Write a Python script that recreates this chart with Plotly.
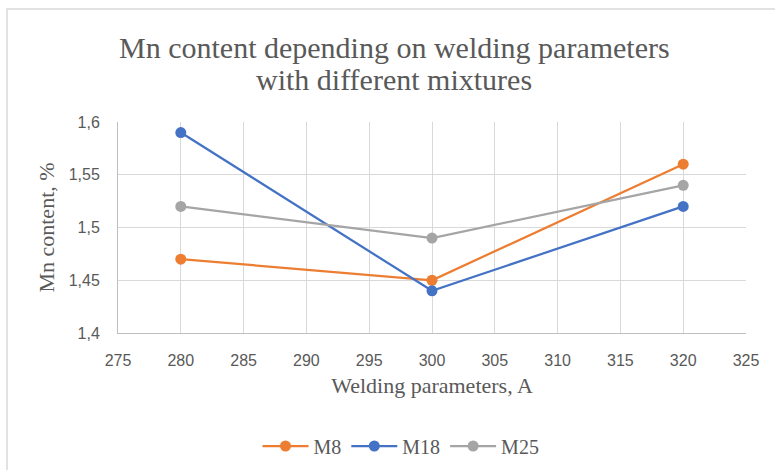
import plotly.graph_objects as go

current_a = [280, 300, 320]
m8 = [1.47, 1.45, 1.56]
m18 = [1.59, 1.44, 1.52]
m25 = [1.52, 1.49, 1.54]

series = [("M8", m8, "#ED7D31"), ("M18", m18, "#4472C4"), ("M25", m25, "#A5A5A5")]
title_lines = ["Mn content depending on welding parameters", "with different mixtures"]

W, H = 775, 470
L, R, T, B = 118, 29, 122, 137

fig = go.Figure()
for name, vals, col in series:
    fig.add_trace(go.Scatter(
        x=current_a, y=vals, name=name, mode="lines+markers",
        line=dict(color=col, width=2.25),
        marker=dict(color=col, size=11),
    ))

serif = "Liberation Serif"
sans = "Liberation Sans"
grey = "#595959"

# two-line title drawn as separate annotations for tighter line spacing
for i, line in enumerate(title_lines):
    fig.add_annotation(
        text=line, xref="paper", yref="paper",
        x=(394 - L) / (W - L - R), xanchor="center",
        y=1 + (T - (48 + 32 * i)) / (H - T - B), yanchor="middle",
        showarrow=False, font=dict(family=serif, size=30, color=grey),
    )

fig.update_layout(
    width=W, height=H,
    margin=dict(l=L, r=R, t=T, b=B, autoexpand=False),
    paper_bgcolor="white", plot_bgcolor="white",
    separators=",.",
    font=dict(family=serif, color=grey),
    xaxis=dict(
        range=[275, 325], dtick=5, tick0=275, automargin=False,
        showgrid=True, gridcolor="#D9D9D9", gridwidth=1,
        showline=True, linecolor="#BFBFBF", linewidth=1,
        zeroline=False, ticks="", ticklabelstandoff=13,
        tickfont=dict(family=sans, size=16, color=grey),
        title=dict(text="Welding parameters, A", standoff=9,
                   font=dict(family=serif, size=22, color=grey)),
    ),
    yaxis=dict(
        range=[1.4, 1.6], dtick=0.05, tick0=1.4, automargin=False,
        showgrid=True, gridcolor="#D9D9D9", gridwidth=1,
        showline=True, linecolor="#BFBFBF", linewidth=1,
        zeroline=False, ticks="", ticklabelstandoff=14,
        tickfont=dict(family=sans, size=16, color=grey),
        title=dict(text="Mn content, %", standoff=7,
                   font=dict(family=serif, size=22, color=grey)),
    ),
    legend=dict(
        orientation="h", x=(401 - L) / (W - L - R), xanchor="center",
        yref="container", y=1 - 446 / H, yanchor="middle",
        font=dict(family=serif, size=20, color=grey),
        tracegroupgap=0, itemwidth=46,
    ),
    shapes=[dict(
        type="rect", xref="paper", yref="paper",
        x0=(7 - L) / (W - L - R), x1=(790 - L) / (W - L - R),
        y0=-(490 - (H - B)) / (H - T - B), y1=1 + (T - 9) / (H - T - B),
        line=dict(color="#D9D9D9", width=1.5), fillcolor="rgba(0,0,0,0)",
        layer="below",
    )],
)

fig.write_html("out.html")
